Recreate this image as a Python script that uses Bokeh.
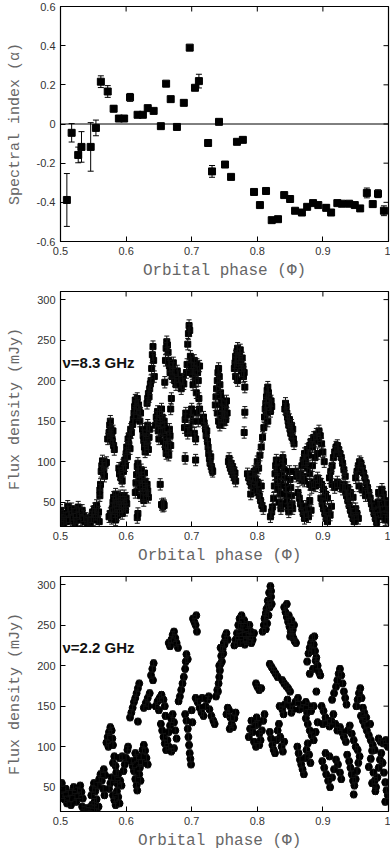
import math
from bokeh.plotting import figure
from bokeh.layouts import column
from bokeh.models import ColumnDataSource, Whisker, TeeHead, Span, Label, FixedTicker
from bokeh.embed import file_html
from bokeh.resources import INLINE

# ---------------- data ----------------
x_ticks = [0.5, 0.6, 0.7, 0.8, 0.9, 1.0]
x_tick_labels = ["0.5", "0.6", "0.7", "0.8", "0.9", "1"]
alpha_ticks = [-0.6, -0.4, -0.2, 0.0, 0.2, 0.4, 0.6]
alpha_tick_labels = ["-0.6", "-0.4", "-0.2", "0", "0.2", "0.4", "0.6"]
flux_ticks = [50, 100, 150, 200, 250, 300]
flux_tick_labels = ["50", "100", "150", "200", "250", "300"]

# Panel 1: spectral index
alpha_phase = [0.5097, 0.517, 0.527, 0.532, 0.546, 0.554, 0.5615, 0.572, 0.581, 0.589,
               0.597, 0.606, 0.6175, 0.6256, 0.633, 0.642, 0.653, 0.661, 0.668, 0.6775,
               0.688, 0.697, 0.705, 0.711, 0.725, 0.731, 0.7416, 0.7508, 0.760, 0.769,
               0.778, 0.795, 0.804, 0.8133, 0.822, 0.8316, 0.841, 0.850, 0.8576, 0.868,
               0.876, 0.885, 0.893, 0.905, 0.9125, 0.922, 0.929, 0.940, 0.9486, 0.9568,
               0.967, 0.976, 0.984, 0.993]
alpha_value = [-0.388, -0.045, -0.158, -0.117, -0.117, -0.020, 0.216, 0.166, 0.078, 0.028,
               0.028, 0.136, 0.047, 0.047, 0.081, 0.067, -0.011, 0.206, 0.127, -0.015,
               0.108, 0.390, 0.185, 0.219, -0.097, -0.242, 0.011, -0.207, -0.270, -0.091,
               -0.081, -0.347, -0.414, -0.342, -0.491, -0.486, -0.363, -0.383, -0.443, -0.452,
               -0.423, -0.404, -0.414, -0.428, -0.452, -0.404, -0.407, -0.407, -0.414, -0.431,
               -0.352, -0.409, -0.356, -0.443]
alpha_err = [0.135, 0.047, 0.040, 0.078, 0.124, 0.040, 0.030, 0.030, 0.015, 0.015,
             0.015, 0.020, 0.010, 0.010, 0.010, 0.012, 0.010, 0.010, 0.010, 0.010,
             0.012, 0.010, 0.010, 0.035, 0.015, 0.030, 0.010, 0.010, 0.010, 0.010,
             0.010, 0.010, 0.010, 0.010, 0.012, 0.010, 0.010, 0.010, 0.010, 0.012,
             0.010, 0.010, 0.010, 0.015, 0.012, 0.010, 0.010, 0.012, 0.012, 0.012,
             0.025, 0.015, 0.020, 0.025]

# Panel 2: 8.3 GHz flux density (phase, mJy)
flux83_points = [
    (0.500, 40), (0.501, 33), (0.502, 28), (0.504, 36), (0.505, 24), (0.507, 30), (0.509, 26),
    (0.511, 45), (0.512, 38), (0.514, 32), (0.515, 27), (0.517, 42), (0.519, 35), (0.520, 29),
    (0.522, 24), (0.524, 38), (0.525, 31), (0.527, 44), (0.529, 36), (0.531, 28), (0.533, 40),
    (0.535, 33), (0.537, 26), (0.539, 30), (0.541, 24), (0.543, 28), (0.545, 25), (0.547, 32),
    (0.549, 38), (0.550, 28), (0.552, 42), (0.553, 35), (0.555, 46), (0.556, 30), (0.558, 38),
    (0.559, 26),
    (0.560, 65), (0.561, 72), (0.560, 58),
    (0.562, 88), (0.563, 95), (0.564, 101), (0.565, 92), (0.566, 86), (0.568, 97), (0.570, 99),
    (0.567, 82),
    (0.572, 128), (0.574, 136), (0.575, 145), (0.576, 150), (0.577, 140), (0.578, 133),
    (0.579, 126), (0.580, 138), (0.581, 120), (0.582, 115), (0.576, 130),
    (0.574, 32), (0.576, 36), (0.578, 30), (0.579, 42), (0.580, 50), (0.581, 56), (0.582, 46),
    (0.583, 38), (0.584, 60), (0.585, 52), (0.586, 44), (0.587, 34), (0.588, 56), (0.589, 48),
    (0.590, 40), (0.591, 58), (0.592, 50), (0.593, 44), (0.594, 36), (0.595, 54), (0.596, 46),
    (0.597, 58), (0.598, 50), (0.599, 40), (0.600, 55), (0.601, 48), (0.584, 28),
    (0.589, 92), (0.590, 85), (0.592, 80), (0.594, 76), (0.595, 96), (0.596, 88), (0.598, 102),
    (0.599, 95), (0.600, 110), (0.601, 118), (0.602, 106), (0.603, 128), (0.604, 122),
    (0.605, 132), (0.606, 116), (0.607, 140), (0.608, 136), (0.610, 146), (0.611, 152),
    (0.612, 160), (0.613, 168), (0.614, 176), (0.615, 172), (0.616, 165), (0.617, 178),
    (0.618, 158), (0.619, 170), (0.620, 162), (0.621, 150), (0.622, 160),
    (0.614, 62), (0.615, 74), (0.616, 84), (0.617, 94), (0.618, 98), (0.619, 88), (0.620, 78),
    (0.621, 68), (0.622, 58), (0.623, 90), (0.624, 80), (0.625, 70), (0.626, 60), (0.627, 52),
    (0.628, 86), (0.629, 76), (0.630, 66), (0.631, 58), (0.632, 72), (0.633, 64), (0.634, 56),
    (0.617, 31), (0.618, 36),
    (0.625, 140), (0.626, 132), (0.627, 126), (0.628, 118), (0.629, 112), (0.630, 128),
    (0.631, 138), (0.632, 122), (0.633, 145), (0.634, 115), (0.635, 130), (0.636, 140),
    (0.632, 172), (0.633, 178), (0.634, 184), (0.635, 180), (0.636, 190), (0.637, 196),
    (0.638, 200), (0.639, 215), (0.640, 232), (0.641, 242), (0.642, 225), (0.643, 205),
    (0.652, 72), (0.654, 47), (0.656, 45), (0.658, 46), (0.657, 48),
    (0.645, 145), (0.646, 155), (0.647, 150), (0.648, 162), (0.649, 138), (0.650, 128),
    (0.651, 158), (0.652, 148), (0.653, 140), (0.654, 165), (0.655, 155), (0.656, 135),
    (0.657, 125), (0.658, 150), (0.659, 142), (0.660, 118), (0.661, 110), (0.662, 130),
    (0.663, 122), (0.664, 115), (0.665, 108), (0.666, 140), (0.667, 132), (0.668, 120),
    (0.659, 198), (0.660, 225), (0.661, 240), (0.662, 248), (0.663, 244), (0.664, 235),
    (0.665, 225), (0.666, 218), (0.667, 210),
    (0.668, 165), (0.669, 178), (0.670, 205), (0.671, 215), (0.672, 222), (0.673, 210),
    (0.674, 200), (0.676, 195), (0.678, 212), (0.680, 205), (0.682, 198), (0.684, 190),
    (0.686, 202), (0.688, 196),
    (0.690, 104), (0.706, 102),
    (0.689, 142), (0.690, 152), (0.691, 160), (0.692, 210), (0.693, 220), (0.694, 245),
    (0.695, 258), (0.696, 268), (0.697, 262), (0.698, 230), (0.699, 215), (0.700, 222),
    (0.701, 208), (0.702, 195), (0.703, 215), (0.704, 225), (0.705, 212), (0.706, 200),
    (0.707, 185), (0.708, 220), (0.709, 210), (0.710, 200), (0.711, 178), (0.712, 165),
    (0.694, 135), (0.696, 142), (0.698, 158), (0.700, 165), (0.702, 150), (0.704, 135),
    (0.706, 128), (0.708, 160), (0.710, 150), (0.712, 218),
    (0.718, 155), (0.719, 148), (0.721, 140), (0.722, 132), (0.723, 138), (0.724, 125),
    (0.725, 118), (0.726, 110), (0.727, 104), (0.728, 98), (0.729, 106), (0.730, 94),
    (0.731, 90), (0.732, 88),
    (0.736, 170), (0.737, 180), (0.738, 190), (0.739, 200), (0.740, 210), (0.741, 215),
    (0.742, 205), (0.743, 195), (0.744, 185), (0.745, 178), (0.746, 170), (0.747, 162),
    (0.748, 155), (0.749, 148), (0.750, 160), (0.751, 168), (0.752, 152), (0.739, 160),
    (0.741, 150), (0.743, 145), (0.745, 155), (0.753, 175), (0.754, 160),
    (0.756, 100), (0.757, 104), (0.758, 96), (0.759, 92), (0.760, 98), (0.761, 88),
    (0.762, 94), (0.763, 84), (0.764, 90), (0.765, 80), (0.766, 86), (0.767, 76),
    (0.765, 215), (0.766, 222), (0.767, 230), (0.768, 225), (0.769, 236), (0.770, 240),
    (0.771, 228), (0.772, 218), (0.773, 232), (0.774, 238), (0.775, 222), (0.776, 212),
    (0.777, 228), (0.778, 218), (0.779, 205), (0.780, 210), (0.767, 205), (0.770, 200),
    (0.781, 192), (0.781, 161), (0.780, 136),
    (0.785, 85), (0.787, 80), (0.789, 75), (0.791, 70), (0.793, 82), (0.795, 88), (0.797, 78),
    (0.799, 68), (0.801, 62), (0.803, 58), (0.805, 52), (0.807, 46), (0.809, 42), (0.790, 60),
    (0.795, 65), (0.800, 75), (0.798, 90), (0.800, 100), (0.802, 92), (0.806, 70),
    (0.804, 108), (0.806, 118), (0.808, 130), (0.810, 142), (0.811, 155), (0.812, 165),
    (0.813, 172), (0.814, 180), (0.815, 188), (0.816, 192), (0.817, 185), (0.818, 178),
    (0.819, 170), (0.820, 162), (0.821, 175), (0.822, 168), (0.814, 160), (0.816, 150),
    (0.820, 32), (0.822, 38), (0.823, 44), (0.825, 55), (0.826, 70), (0.827, 85), (0.828, 95),
    (0.829, 102), (0.830, 90), (0.831, 78), (0.832, 66),
    (0.833, 50), (0.835, 60), (0.836, 72), (0.837, 85), (0.838, 95), (0.839, 105), (0.840, 100),
    (0.841, 90), (0.842, 80), (0.843, 70), (0.844, 62), (0.845, 55), (0.846, 48), (0.847, 42),
    (0.848, 38), (0.849, 88), (0.850, 78), (0.851, 68), (0.852, 58), (0.853, 48), (0.854, 42),
    (0.836, 42), (0.838, 48),
    (0.842, 165), (0.843, 172), (0.844, 168), (0.845, 160), (0.846, 155), (0.847, 150),
    (0.848, 145), (0.849, 152), (0.850, 140), (0.851, 135), (0.852, 145), (0.853, 130),
    (0.854, 140), (0.855, 128), (0.856, 122),
    (0.858, 88), (0.860, 82), (0.862, 85), (0.864, 80), (0.866, 84), (0.868, 78), (0.870, 82),
    (0.872, 76),
    (0.862, 62), (0.864, 55), (0.866, 48), (0.868, 42), (0.870, 36), (0.872, 30), (0.874, 45),
    (0.876, 38), (0.878, 32), (0.880, 52), (0.882, 40),
    (0.868, 95), (0.870, 102), (0.872, 110), (0.874, 100), (0.876, 115), (0.878, 108),
    (0.880, 120), (0.882, 125), (0.884, 118), (0.886, 130), (0.888, 126), (0.890, 134),
    (0.892, 128), (0.894, 138), (0.896, 132), (0.898, 122), (0.900, 112), (0.902, 100),
    (0.876, 92), (0.880, 85), (0.884, 95), (0.888, 105), (0.892, 110),
    (0.880, 72), (0.883, 68), (0.886, 75), (0.889, 70), (0.892, 80), (0.895, 76), (0.898, 72),
    (0.901, 66), (0.904, 60), (0.907, 55),
    (0.897, 55), (0.899, 48), (0.901, 42), (0.903, 36), (0.905, 30), (0.907, 26), (0.909, 40),
    (0.911, 34), (0.913, 45),
    (0.910, 80), (0.912, 88), (0.914, 95), (0.916, 105), (0.918, 112), (0.920, 118),
    (0.922, 120), (0.924, 115), (0.926, 110), (0.928, 105), (0.930, 98), (0.932, 90),
    (0.934, 82), (0.914, 72), (0.918, 68), (0.922, 75), (0.926, 70), (0.930, 66),
    (0.932, 72), (0.934, 65), (0.936, 58), (0.938, 52), (0.940, 46), (0.942, 40), (0.944, 35),
    (0.946, 30), (0.948, 26), (0.950, 42), (0.952, 36), (0.954, 30), (0.938, 68), (0.942, 62),
    (0.946, 56),
    (0.950, 80), (0.952, 88), (0.954, 95), (0.956, 100), (0.958, 98), (0.960, 92), (0.962, 86),
    (0.964, 80), (0.966, 74), (0.968, 68), (0.970, 62), (0.955, 70), (0.960, 65), (0.965, 58),
    (0.972, 55), (0.974, 48), (0.976, 42), (0.978, 36), (0.980, 30), (0.982, 25), (0.984, 50),
    (0.986, 44), (0.988, 38), (0.990, 32), (0.992, 60), (0.994, 52), (0.996, 45), (0.998, 38),
    (0.999, 30), (0.985, 62), (0.990, 66), (0.995, 28),
]
flux83_err = 7.0   # typical error bar half-length (mJy)

# Panel 3: 2.2 GHz flux density (phase, mJy)
flux22_points = [
    (0.498, 52), (0.500, 46), (0.502, 55), (0.504, 40), (0.506, 35), (0.508, 48), (0.510, 30),
    (0.512, 42), (0.514, 36), (0.516, 28), (0.518, 44), (0.520, 50), (0.522, 38), (0.524, 32),
    (0.526, 46), (0.528, 40), (0.530, 52), (0.532, 44), (0.534, 36),
    (0.533, 26), (0.536, 22), (0.539, 24), (0.542, 21), (0.545, 25), (0.548, 28), (0.552, 23),
    (0.555, 20), (0.558, 26),
    (0.547, 40), (0.549, 48), (0.551, 55), (0.553, 45), (0.555, 35), (0.557, 52), (0.559, 60),
    (0.561, 66), (0.563, 58), (0.565, 48), (0.567, 40), (0.568, 65), (0.566, 72), (0.552, 32),
    (0.570, 105), (0.572, 112), (0.574, 118), (0.576, 124), (0.578, 120), (0.579, 110),
    (0.580, 102), (0.573, 100),
    (0.574, 48), (0.576, 55), (0.578, 62), (0.580, 40), (0.582, 34), (0.584, 28), (0.586, 45),
    (0.588, 38), (0.590, 30), (0.583, 60), (0.587, 54), (0.585, 68), (0.580, 80), (0.582, 88),
    (0.584, 76), (0.588, 66), (0.591, 58), (0.593, 52), (0.596, 70), (0.598, 78), (0.600, 86),
    (0.602, 96), (0.603, 100), (0.594, 88), (0.590, 86),
    (0.606, 136), (0.608, 142), (0.610, 148), (0.612, 155), (0.614, 160), (0.616, 166),
    (0.618, 172), (0.620, 178), (0.618, 131),
    (0.608, 82), (0.610, 76), (0.612, 70), (0.614, 60), (0.616, 52), (0.617, 46), (0.614, 92),
    (0.616, 86), (0.619, 80), (0.621, 74), (0.623, 88), (0.625, 96), (0.627, 102), (0.629, 95),
    (0.631, 86), (0.633, 78), (0.620, 66), (0.622, 58), (0.625, 80),
    (0.627, 148), (0.630, 154), (0.633, 160), (0.636, 166), (0.634, 150), (0.638, 188),
    (0.640, 196), (0.642, 203), (0.641, 182),
    (0.645, 150), (0.648, 156), (0.651, 160), (0.654, 164), (0.657, 158), (0.659, 150),
    (0.650, 145),
    (0.653, 128), (0.655, 120), (0.657, 112), (0.659, 104), (0.661, 96), (0.663, 108),
    (0.665, 118), (0.667, 126), (0.669, 134), (0.671, 140), (0.673, 130), (0.675, 120),
    (0.677, 110), (0.665, 100), (0.669, 94), (0.673, 98), (0.660, 138),
    (0.665, 228), (0.667, 224), (0.669, 232), (0.671, 238), (0.673, 242), (0.675, 234),
    (0.677, 228), (0.679, 222),
    (0.680, 156), (0.682, 162), (0.684, 170), (0.686, 178), (0.688, 186), (0.690, 196),
    (0.691, 205), (0.692, 214), (0.694, 208),
    (0.690, 140), (0.692, 132), (0.694, 122), (0.695, 112), (0.696, 102), (0.697, 92),
    (0.698, 85), (0.699, 78), (0.700, 145), (0.701, 130),
    (0.702, 258), (0.704, 254), (0.706, 250), (0.708, 242), (0.707, 262),
    (0.706, 160), (0.709, 155), (0.712, 148), (0.715, 142), (0.718, 138), (0.721, 150),
    (0.724, 158), (0.727, 146), (0.730, 138), (0.733, 132), (0.735, 128), (0.716, 160),
    (0.726, 162),
    (0.737, 162), (0.739, 170), (0.741, 178), (0.742, 186), (0.743, 194), (0.744, 202),
    (0.745, 212), (0.747, 220), (0.749, 228), (0.751, 236), (0.753, 240), (0.755, 232),
    (0.740, 168), (0.746, 205), (0.748, 215), (0.744, 222), (0.750, 226), (0.742, 200),
    (0.753, 140), (0.755, 148), (0.757, 145), (0.759, 136), (0.761, 128), (0.763, 124),
    (0.765, 135), (0.767, 142), (0.758, 122),
    (0.765, 225), (0.767, 232), (0.769, 240), (0.771, 250), (0.773, 258), (0.775, 248),
    (0.777, 240), (0.779, 232), (0.781, 226), (0.783, 238), (0.785, 250), (0.787, 244),
    (0.789, 236), (0.791, 228), (0.793, 232), (0.795, 240), (0.776, 262), (0.780, 256),
    (0.770, 228), (0.786, 232), (0.772, 236), (0.778, 245), (0.784, 230), (0.790, 242),
    (0.774, 228), (0.788, 250),
    (0.787, 112), (0.789, 122), (0.791, 132), (0.793, 118), (0.795, 106), (0.797, 126),
    (0.799, 136), (0.801, 128), (0.803, 116), (0.805, 108), (0.807, 120), (0.809, 132),
    (0.811, 140), (0.798, 100), (0.803, 102),
    (0.798, 178), (0.800, 174), (0.803, 170), (0.806, 172),
    (0.808, 242), (0.810, 250), (0.812, 260), (0.814, 270), (0.816, 280), (0.818, 290),
    (0.820, 298), (0.821, 285), (0.819, 272), (0.817, 262), (0.815, 252), (0.822, 276),
    (0.813, 245), (0.811, 258), (0.817, 275), (0.813, 265), (0.821, 292),
    (0.819, 202), (0.822, 198), (0.825, 194), (0.828, 190), (0.831, 186),
    (0.819, 118), (0.821, 110), (0.823, 102), (0.825, 96), (0.827, 92), (0.829, 108),
    (0.831, 120), (0.833, 128), (0.835, 112), (0.837, 100), (0.839, 94), (0.841, 106),
    (0.838, 182), (0.841, 178), (0.844, 175), (0.847, 172), (0.850, 168),
    (0.834, 150), (0.838, 146), (0.842, 152), (0.846, 158), (0.850, 150), (0.854, 146),
    (0.858, 155), (0.862, 160), (0.866, 152), (0.870, 148), (0.874, 155), (0.878, 150),
    (0.882, 144), (0.886, 150), (0.840, 140), (0.852, 142), (0.864, 146), (0.876, 142),
    (0.841, 272), (0.843, 266), (0.845, 260), (0.847, 254), (0.849, 248), (0.851, 242),
    (0.853, 238), (0.855, 234), (0.857, 230), (0.859, 228), (0.845, 276), (0.852, 256),
    (0.856, 250), (0.848, 262), (0.854, 244), (0.850, 236),
    (0.861, 100), (0.863, 92), (0.865, 84), (0.867, 78), (0.869, 72), (0.871, 66), (0.873, 86),
    (0.875, 96), (0.877, 104), (0.879, 90), (0.881, 80),
    (0.876, 205), (0.878, 215), (0.880, 222), (0.882, 228), (0.884, 234), (0.886, 226),
    (0.888, 218), (0.890, 210), (0.892, 200), (0.894, 192), (0.896, 188), (0.887, 236),
    (0.880, 190), (0.883, 218), (0.889, 206), (0.885, 196),
    (0.874, 135), (0.877, 128), (0.880, 120), (0.883, 114), (0.886, 108), (0.889, 118),
    (0.890, 168), (0.892, 130),
    (0.898, 150), (0.901, 144), (0.904, 136), (0.907, 130), (0.910, 125), (0.913, 132),
    (0.916, 140), (0.919, 128), (0.922, 120), (0.900, 128),
    (0.899, 82), (0.902, 74), (0.905, 66), (0.908, 58), (0.911, 50), (0.914, 62), (0.917, 72),
    (0.920, 84), (0.923, 78), (0.926, 68), (0.928, 60), (0.910, 88), (0.904, 92),
    (0.914, 158), (0.917, 166), (0.920, 174), (0.922, 182), (0.924, 190), (0.926, 196),
    (0.928, 188), (0.930, 178), (0.932, 168), (0.934, 160), (0.936, 152),
    (0.926, 124), (0.929, 118), (0.932, 112), (0.935, 106), (0.938, 120), (0.941, 126),
    (0.944, 116), (0.947, 108), (0.950, 100), (0.953, 96),
    (0.937, 90), (0.940, 82), (0.942, 74), (0.944, 66), (0.946, 58), (0.948, 52), (0.950, 60),
    (0.952, 70), (0.954, 80), (0.956, 88), (0.947, 41),
    (0.951, 150), (0.953, 158), (0.955, 166), (0.957, 172), (0.959, 160), (0.961, 148),
    (0.963, 142),
    (0.958, 138), (0.961, 132), (0.964, 126), (0.967, 120), (0.970, 114), (0.973, 108),
    (0.976, 102), (0.979, 96), (0.966, 136), (0.972, 128),
    (0.970, 75), (0.973, 85), (0.975, 95), (0.977, 68), (0.979, 58), (0.981, 50), (0.983, 62),
    (0.985, 74), (0.987, 84), (0.989, 92), (0.991, 80), (0.993, 68), (0.995, 56), (0.997, 46),
    (0.999, 40), (0.985, 110), (0.988, 106), (0.992, 104), (0.996, 108), (0.999, 100),
    (0.995, 32), (0.980, 45), (0.975, 55),
]
flux22_err = 4.0

TICK_FONT = "Liberation Sans"
LABEL_FONT = "Liberation Mono"


def make_fig(y_range, y_ticks, y_tick_labels, y_label, x_label):
    p = figure(width=390, height=285, x_range=(0.5, 1.0), y_range=y_range,
               output_backend="svg", toolbar_location=None,
               min_border_left=60, min_border_right=2, min_border_top=6, min_border_bottom=44)
    p.grid.visible = False
    p.outline_line_color = "black"
    p.outline_line_width = 1.2
    p.background_fill_color = "white"
    p.border_fill_color = "white"

    p.xaxis.ticker = FixedTicker(ticks=x_ticks)
    p.xaxis.major_label_overrides = dict(zip(x_ticks, x_tick_labels))
    p.yaxis.ticker = FixedTicker(ticks=y_ticks)
    p.yaxis.major_label_overrides = dict(zip(y_ticks, y_tick_labels))
    for ax in (p.xaxis[0], p.yaxis[0]):
        ax.major_tick_in = 5
        ax.major_tick_out = 0
        ax.minor_tick_line_color = None
        ax.axis_line_color = "black"
        ax.major_tick_line_color = "black"
        ax.major_label_text_font = TICK_FONT
        ax.major_label_text_font_size = "11px"
        ax.major_label_text_color = "#333333"
        ax.axis_label_text_font = LABEL_FONT
        ax.axis_label_text_font_style = "normal"
        ax.axis_label_text_color = "#666666"
        ax.major_label_standoff = 5
    p.xaxis.axis_label = x_label
    p.yaxis.axis_label = y_label
    p.xaxis.axis_label_text_font_size = "16px"
    p.yaxis.axis_label_text_font_size = "15px"
    p.xaxis.axis_label_standoff = 4
    p.yaxis.axis_label_standoff = 10

    # mirrored inward ticks on the top and right frame edges (half of each dash is clipped)
    y0, y1 = y_range
    p.scatter(x=x_ticks, y=[y1] * len(x_ticks), marker="dash", angle=math.pi / 2, size=10,
              line_color="black", line_width=1)
    p.scatter(x=[1.0] * len(y_ticks), y=y_ticks, marker="dash", size=10,
              line_color="black", line_width=1)
    return p


# ---- Panel 1 ----
p1 = make_fig((-0.6, 0.6), alpha_ticks, alpha_tick_labels, "Spectral index (α)", "Orbital phase (Φ)")
src1 = ColumnDataSource(dict(
    x=alpha_phase, y=alpha_value,
    lo=[v - e for v, e in zip(alpha_value, alpha_err)],
    hi=[v + e for v, e in zip(alpha_value, alpha_err)]))
p1.add_layout(Span(location=0, dimension="width", line_color="black", line_width=1))
p1.add_layout(Whisker(source=src1, base="x", upper="hi", lower="lo", line_color="black",
                      line_width=1, level="glyph",
                      upper_head=TeeHead(size=6, line_color="black", line_width=1),
                      lower_head=TeeHead(size=6, line_color="black", line_width=1)))
p1.scatter("x", "y", source=src1, marker="square", size=7, fill_color="black", line_color="black")


def flux_panel(points, err, label_text, marker, msize):
    p = make_fig((20, 310), flux_ticks, flux_tick_labels, "Flux density (mJy)", "Orbital  phase (Φ)")
    xs = [a for a, b in points]
    ys = [b for a, b in points]
    src = ColumnDataSource(dict(x=xs, y=ys, lo=[v - err for v in ys], hi=[v + err for v in ys]))
    p.add_layout(Whisker(source=src, base="x", upper="hi", lower="lo", line_color="#111111",
                         line_width=1, level="glyph",
                         upper_head=TeeHead(size=5, line_color="#111111", line_width=1),
                         lower_head=TeeHead(size=5, line_color="#111111", line_width=1)))
    p.scatter("x", "y", source=src, marker=marker, size=msize, fill_color="black", line_color="black")
    p.add_layout(Label(x=0.503, y=223, text=label_text, text_font=TICK_FONT,
                       text_font_style="bold", text_font_size="15px", text_color="#111111",
                       text_baseline="middle", text_align="left"))
    return p


p2 = flux_panel(flux83_points, flux83_err, "ν=8.3 GHz", "square", 6)
p3 = flux_panel(flux22_points, flux22_err, "ν=2.2 GHz", "circle", 7)

layout = column(p1, p2, p3, spacing=0)
open("out.html", "w").write(file_html(layout, INLINE))
